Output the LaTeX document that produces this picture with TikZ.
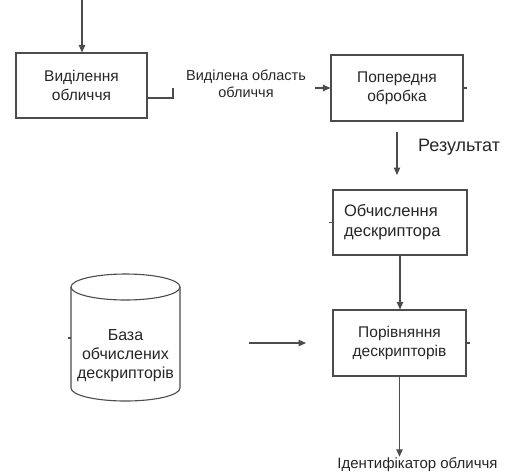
\documentclass[tikz,border=0pt]{standalone}
\usepackage{fontspec}
\setmainfont{Liberation Sans}
\usetikzlibrary{arrows.meta}
\tikzset{
  block/.style={draw=black!70,line width=1.1pt,minimum width=132pt,minimum height=65pt,
    align=center,font=\fontsize{15.5}{19}\selectfont,text=black!85},
  lbl/.style={align=center,inner sep=1pt,font=\fontsize{14.5}{17}\selectfont,text=black!85},
  link/.style={draw=black!70,line width=1.1pt},
  arr/.style={link,-{Triangle[length=7.5pt,width=6.5pt]}}
}
\begin{document}
\begin{tikzpicture}[x=1pt,y=1pt]
      \useasboundingbox (0,0) rectangle (511,-475);
      \draw
        (81.5,-85.5) node[block,minimum width=131pt] (detect){Виділення\\обличчя}
        (397,-88) node[block,minimum height=66pt] (prep){Попередня\\обробка}
        (400,-222.5) node[block,minimum width=134pt,text width=112pt,align=left,
          font=\fontsize{16.5}{20}\selectfont] (desc){Обчислення\\дескриптора}
        (399.5,-343) node[block,minimum width=133pt,minimum height=66pt] (match){Порівняння\\дескрипторів}
        (246,-84) node[lbl] (region){Виділена область\\обличчя}
        (417,-147) node[lbl,anchor=west,font=\fontsize{18}{20}\selectfont] (result){Результат}
        (125.5,-356) node[lbl,font=\fontsize{16}{19}\selectfont] (base){База\\обчислених\\дескрипторів}
        (417.5,-465) node[lbl,font=\fontsize{15}{17}\selectfont] (ident){Ідентифікатор обличчя};
      \coordinate (topin) at (82,0);
      \coordinate (segend) at (173,-88);
      \coordinate (segin) at (315,-88);
      \coordinate (resfrom) at (397,-132);
      \coordinate (resto) at (397,-175);
      \coordinate (basefrom) at (249,-343);
      \coordinate (baseto) at (306,-343);
      \draw[link] (125.5,-287) ellipse [x radius=54.5,y radius=13];
      \draw[link] (71,-287) -- (71,-388)
        arc[start angle=180,end angle=360,x radius=54.5,y radius=13] -- (180,-287);
      \begin{scope}[arr]
        \draw (topin) -- (topin |- detect.north);
        \draw (segin) -- (prep.west);
        \draw (resfrom) -- (resto);
        \draw (desc.south) -- (desc.south |- match.north);
        \draw (basefrom) -- (baseto);
        \draw (match.south) -- (match.south |- ident.north);
      \end{scope}
      \begin{scope}[link]
        \draw ([yshift=-12.5pt]detect.east) -| (segend);
        \draw (prep.east) -- ++(3,0);
        \draw (desc.west) -- ++(-3,0);
        \draw (match.east) -- ++(3,0);
        \draw (71,-338) -- ++(-3,0);
      \end{scope}
    \end{tikzpicture}
\end{document}
